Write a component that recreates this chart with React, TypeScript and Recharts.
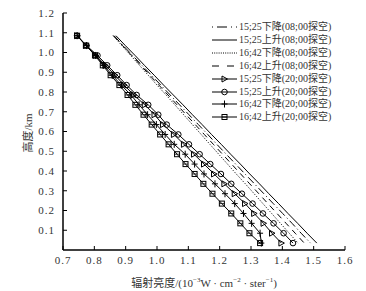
import { ComposedChart, Scatter, XAxis, YAxis } from 'recharts';

// heights (km) of the sounding levels, top to bottom
const heights = [1.085, 1.035, 0.985, 0.935, 0.885, 0.835, 0.785, 0.735, 0.685, 0.635, 0.585, 0.535, 0.485, 0.435, 0.385, 0.335, 0.285, 0.235, 0.185, 0.135, 0.085, 0.035];

// radiance values for each series, same order as heights
const s1525Down08 = [0.863, 0.892, 0.922, 0.952, 0.982, 1.012, 1.042, 1.072, 1.102, 1.132, 1.162, 1.191, 1.221, 1.251, 1.281, 1.311, 1.341, 1.371, 1.401, 1.431, 1.460, 1.490];
const s1525Up08 = [0.869, 0.899, 0.930, 0.960, 0.991, 1.021, 1.052, 1.083, 1.113, 1.144, 1.174, 1.205, 1.235, 1.266, 1.296, 1.327, 1.357, 1.388, 1.418, 1.449, 1.479, 1.510];
const s1642Down08 = [0.860, 0.888, 0.916, 0.944, 0.972, 1.000, 1.029, 1.057, 1.085, 1.113, 1.141, 1.169, 1.197, 1.225, 1.253, 1.282, 1.310, 1.338, 1.366, 1.394, 1.422, 1.450];
const s1642Up08 = [0.861, 0.890, 0.919, 0.948, 0.977, 1.006, 1.035, 1.064, 1.093, 1.122, 1.151, 1.180, 1.209, 1.238, 1.267, 1.296, 1.325, 1.354, 1.383, 1.412, 1.441, 1.470];
const s1525Down20 = [0.745, 0.773, 0.805, 0.835, 0.866, 0.895, 0.926, 0.961, 0.992, 1.019, 1.054, 1.086, 1.118, 1.150, 1.182, 1.215, 1.248, 1.281, 1.310, 1.340, 1.367, 1.397];
const s1525Up20 = [0.745, 0.775, 0.810, 0.841, 0.873, 0.903, 0.935, 0.972, 1.004, 1.031, 1.068, 1.102, 1.136, 1.170, 1.204, 1.237, 1.271, 1.305, 1.338, 1.372, 1.404, 1.434];
const s1642Down20 = [0.745, 0.775, 0.804, 0.830, 0.857, 0.886, 0.917, 0.943, 0.970, 0.998, 1.026, 1.055, 1.090, 1.120, 1.150, 1.185, 1.217, 1.248, 1.276, 1.302, 1.329, 1.333];
const s1642Up20 = [0.745, 0.774, 0.802, 0.827, 0.852, 0.880, 0.906, 0.931, 0.957, 0.983, 1.010, 1.037, 1.064, 1.091, 1.120, 1.148, 1.177, 1.207, 1.237, 1.266, 1.295, 1.329];

const xTicks = [0.7, 0.8, 0.9, 1.0, 1.1, 1.2, 1.3, 1.4, 1.5, 1.6];
const yTicks = [0.1, 0.2, 0.3, 0.4, 0.5, 0.6, 0.7, 0.8, 0.9, 1.0, 1.1, 1.2];
const minorX = Array.from({ length: 46 }, (_, i) => Math.round((0.7 + i * 0.02) * 100) / 100);

const names = [
  '15;25下降(08;00探空)',
  '15;25上升(08;00探空)',
  '16;42下降(08;00探空)',
  '16;42上升(08;00探空)',
  '15;25下降(20;00探空)',
  '15;25上升(20;00探空)',
  '16;42下降(20;00探空)',
  '16;42上升(20;00探空)',
];

const toPoints = (xs: number[]) => xs.map((x, i) => ({ x, h: heights[i] }));

const Tri = ({ cx, cy }: any) => (
  <path d={`M${cx - 2.5},${cy - 3}L${cx + 3},${cy}L${cx - 2.5},${cy + 3}Z`} fill="none" stroke="#000" strokeWidth={1} />
);
const Circ = ({ cx, cy }: any) => <circle cx={cx} cy={cy} r={2.8} fill="none" stroke="#000" strokeWidth={1} />;
const Plus = ({ cx, cy }: any) => (
  <path d={`M${cx - 3},${cy}H${cx + 3}M${cx},${cy - 3.5}V${cy + 3.5}`} stroke="#000" strokeWidth={1} />
);
const Sq = ({ cx, cy }: any) => (
  <g>
    <rect x={cx - 2.5} y={cy - 2.5} width={5} height={5} fill="none" stroke="#000" strokeWidth={1} />
    <path d={`M${cx - 2.5},${cy}H${cx + 2.5}`} stroke="#000" strokeWidth={0.8} />
  </g>
);
const NoMark = () => <g />;

const series = [
  { data: s1525Down08, dash: '8 3 1 3', shape: NoMark },
  { data: s1525Up08, dash: undefined, shape: NoMark },
  { data: s1642Down08, dash: '1 1.5', shape: NoMark },
  { data: s1642Up08, dash: '6 5', shape: NoMark },
  { data: s1525Down20, dash: undefined, shape: Tri },
  { data: s1525Up20, dash: undefined, shape: Circ },
  { data: s1642Down20, dash: undefined, shape: Plus },
  { data: s1642Up20, dash: undefined, shape: Sq },
];

const legendDash = ['1 4 10 4', undefined, '1 1.2', '7 8', undefined, undefined, undefined, undefined];

const font = '"Liberation Serif", "DejaVu Serif", "Noto Sans CJK SC", serif';
const tickStyle = { fontSize: 11, fill: '#333', fontFamily: font, letterSpacing: 1 };

export default function App() {
  return (
    <div style={{ position: 'absolute', left: 0, top: 0, width: 366, height: 291, background: '#fff', fontFamily: font }}>
      <ComposedChart width={366} height={291} margin={{ top: 13, right: 21, bottom: 11, left: 28 }}>
        <XAxis xAxisId="minB" type="number" orientation="bottom" domain={[0.7, 1.6]} ticks={minorX} tickSize={-2} tick={false} axisLine={false} tickLine={{ stroke: '#000' }} height={0} allowDataOverflow />
        <XAxis
          type="number"
          dataKey="x"
          domain={[0.7, 1.6]}
          ticks={xTicks}
          tickSize={-4}
          tickMargin={10}
          height={30}
          tick={tickStyle}
          tickFormatter={(v: number) => v.toFixed(1)}
          axisLine={{ stroke: '#000', strokeWidth: 1.5 }}
          tickLine={{ stroke: '#000' }}
          allowDataOverflow
        />
        <XAxis xAxisId="minT" type="number" orientation="top" domain={[0.7, 1.6]} ticks={minorX} tickSize={-2} tick={false} axisLine={false} tickLine={{ stroke: '#000' }} height={0} allowDataOverflow />
        <XAxis xAxisId="top" type="number" orientation="top" domain={[0.7, 1.6]} ticks={xTicks} tickSize={-4} tick={false} height={0} axisLine={{ stroke: '#000', strokeWidth: 1.5 }} tickLine={{ stroke: '#000' }} allowDataOverflow />
        <YAxis
          type="number"
          dataKey="h"
          domain={[0, 1.2]}
          ticks={yTicks}
          tickSize={-4}
          tickMargin={12}
          width={35}
          tick={tickStyle}
          tickFormatter={(v: number) => v.toFixed(1)}
          axisLine={{ stroke: '#000', strokeWidth: 1.5 }}
          tickLine={{ stroke: '#000' }}
          allowDataOverflow
        />
        <YAxis yAxisId="right" type="number" orientation="right" domain={[0, 1.2]} ticks={yTicks} tickSize={-4} tick={false} width={0} axisLine={{ stroke: '#000', strokeWidth: 1.5 }} tickLine={{ stroke: '#000' }} allowDataOverflow />
        {series.map((s, i) => (
          <Scatter
            key={i}
            name={names[i]}
            data={toPoints(s.data)}
            line={{ stroke: '#000', strokeWidth: 1, strokeDasharray: s.dash }}
            lineType="joint"
            shape={s.shape}
            isAnimationActive={false}
          />
        ))}
      </ComposedChart>

      <div style={{ position: 'absolute', left: 210, top: 21 }}>
        {names.map((n, i) => {
          const Shape = series[i].shape;
          return (
            <div key={n} style={{ display: 'flex', alignItems: 'center', height: 12.85 }}>
              <svg width={28} height={10} style={{ display: 'block' }}>
                <line x1={2} y1={5} x2={27} y2={5} stroke="#000" strokeWidth={1} strokeDasharray={legendDash[i]} />
                <Shape cx={14.5} cy={5} />
              </svg>
              <span style={{ fontSize: 10, color: '#333', marginLeft: 1, whiteSpace: 'nowrap', lineHeight: '10px' }}>{n}</span>
            </div>
          );
        })}
      </div>

      <div
        style={{
          position: 'absolute',
          left: 27,
          top: 133,
          transform: 'translate(-50%, -50%) rotate(-90deg)',
          fontSize: 11,
          color: '#333',
          whiteSpace: 'nowrap',
        }}
      >
        高度/km
      </div>
      <div
        style={{
          position: 'absolute',
          left: 204,
          top: 282,
          transform: 'translate(-50%, -50%)',
          fontSize: 11,
          color: '#333',
          whiteSpace: 'nowrap',
        }}
      >
        辐射亮度/(10<sup style={{ fontSize: 7 }}>−3</sup>W · cm<sup style={{ fontSize: 7 }}>−2</sup> · ster<sup style={{ fontSize: 7 }}>−1</sup>)
      </div>
    </div>
  );
}
